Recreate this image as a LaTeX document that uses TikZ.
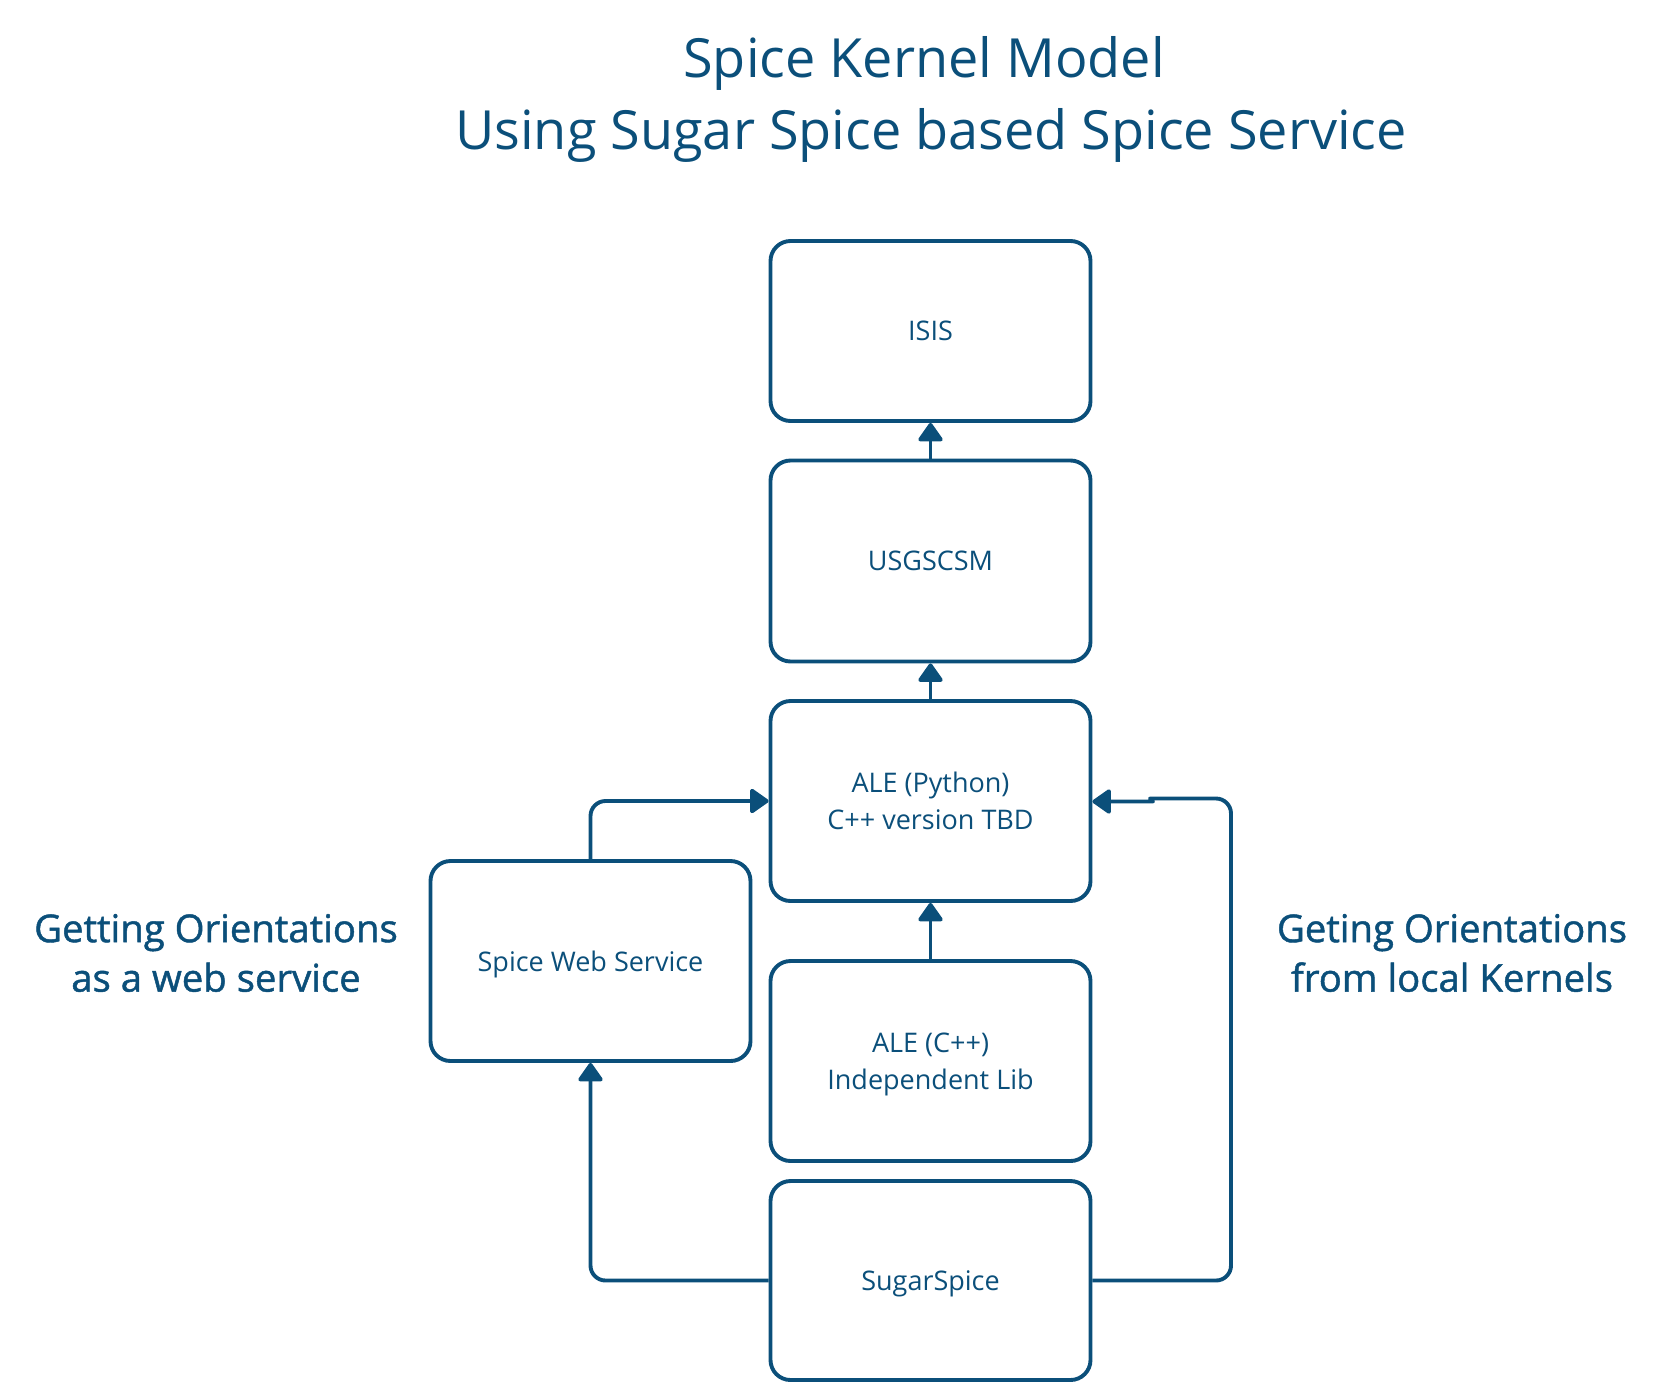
\documentclass[tikz,border=0pt]{standalone}
\usepackage{fontspec}
\setmainfont{Open Sans}
\newfontfamily\labfont[FakeBold=1.2]{Open Sans}
\usetikzlibrary{arrows.meta}
\definecolor{ink}{RGB}{11,79,122}
\tikzset{
  box/.style={draw=ink, line width=3.9pt, rounded corners=20pt, minimum width=320pt,
    minimum height=200pt, align=center, text=ink, inner sep=0pt, text depth=0pt,
    font=\fontsize{27}{37}\selectfont},
  conn/.style={draw=ink, line width=3.9pt, rounded corners=15pt, line join=round,
    -{Triangle[width=27pt,length=20pt,round]}},
  lab/.style={text=ink, align=center, font=\labfont\fontsize{38.3}{49.5}\selectfont},
  ttl/.style={text=ink, align=center, font=\fontsize{54}{72}\selectfont}
}
\begin{document}
\begin{tikzpicture}[x=1pt,y=-1pt]
\useasboundingbox (0,0) rectangle (1662,1387);
\node[ttl, anchor=base] (title1) at (924,77) {Spice Kernel Model};
\node[ttl, anchor=base] (title2) at (931,149) {Using Sugar Spice based Spice Service};
\node[box, minimum height=180pt] (isis) at (930.5,331) {ISIS};
\node[box, minimum height=201pt] (usgs) at (930.5,561) {USGSCSM};
\node[box] (alep) at (930.5,801) {ALE (Python)\\C++ version TBD};
\node[box] (alec) at (930.5,1061) {ALE (C++)\\Independent Lib};
\node[box, minimum height=199pt] (sugar) at (930.5,1280.5) {SugarSpice};
\node[box] (sws) at (590.5,961) {Spice Web Service};
\node[lab] (ll) at (216,953) {Getting Orientations\\as a web service};
\node[lab] (rl) at (1452,953) {Geting Orientations\\from local Kernels};
\coordinate (c1) at (590.5,801);
\coordinate (c2) at (590.5,1280.5);
\coordinate (c3) at (1231,1280.5);
\coordinate (c4) at (1231,798.5);
\coordinate (w1) at (1165,798.5);
\coordinate (w2) at (1138,801.5);
\draw[conn] (usgs.north) -- (isis.south);
\draw[conn] (alep.north) -- (usgs.south);
\draw[conn] (alec.north) -- (alep.south);
\draw[conn] (sws.north) -- (c1) -- (alep.west);
\draw[conn] (sugar.west) -- (c2) -- (sws.south);
\draw[conn] (sugar.east) -- (c3) -- (c4) -- (w1) .. controls (1150,798.5) and (1152,801.5) .. (w2) -- (alep.east |- w2);
\end{tikzpicture}
\end{document}
